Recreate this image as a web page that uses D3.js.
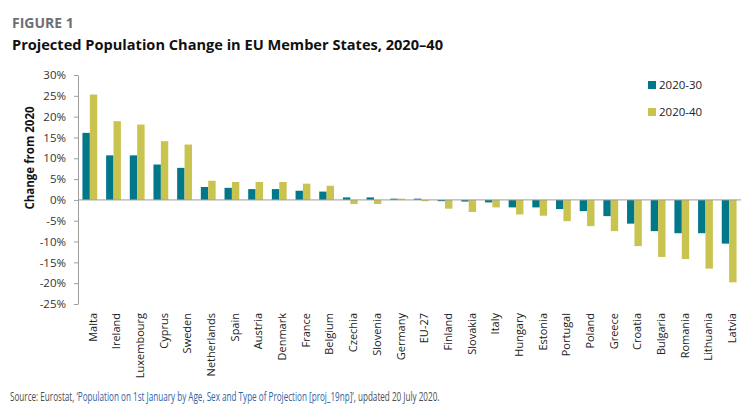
<!DOCTYPE html>
<html>
<head>
<meta charset="utf-8">
<script src="https://cdn.jsdelivr.net/npm/d3@7"></script>
<style>
  body { margin: 0; background: #fff; }
  svg { display: block; font-family: "Open Sans", sans-serif; }
</style>
</head>
<body>
<svg id="chart" width="749" height="418"></svg>
<script>
// data (percent change from 2020)
const countries = ["Malta", "Ireland", "Luxembourg", "Cyprus", "Sweden", "Netherlands", "Spain",
  "Austria", "Denmark", "France", "Belgium", "Czechia", "Slovenia", "Germany", "EU-27", "Finland",
  "Slovakia", "Italy", "Hungary", "Estonia", "Portugal", "Poland", "Greece", "Croatia", "Bulgaria",
  "Romania", "Lithuania", "Latvia"];
const change2030 = [16.1, 10.7, 10.7, 8.5, 7.7, 3.1, 2.9, 2.6, 2.6, 2.2, 2.0, 0.6, 0.6, 0.3, 0.3,
  -0.3, -0.4, -0.6, -1.8, -1.8, -2.2, -2.7, -3.9, -5.7, -7.5, -8.0, -8.0, -10.5];
const change2040 = [25.3, 18.9, 18.1, 14.1, 13.3, 4.6, 4.3, 4.3, 4.3, 3.9, 3.4, -1.0, -1.0, 0.3, -0.3,
  -2.1, -2.9, -1.8, -3.5, -3.8, -5.1, -6.3, -7.5, -11.1, -13.7, -14.2, -16.5, -19.8];
const seriesNames = ["2020-30", "2020-40"];
const yTicks = [30, 25, 20, 15, 10, 5, 0, -5, -10, -15, -20, -25];

const colors = { "2020-30": "#00788a", "2020-40": "#c9c350" };

const data = countries.map((c, i) => ({ country: c, "2020-30": change2030[i], "2020-40": change2040[i] }));

const svg = d3.select("#chart");

// scales
const x = d3.scaleBand()
  .domain(countries)
  .range([78, 741])
  .paddingInner(0.375)
  .paddingOuter(0.1875);

const xSub = d3.scaleBand()
  .domain(seriesNames)
  .range([0, x.bandwidth()]);

const y = d3.scaleLinear().domain([-25, 30]).range([304, 75]);

// titles
svg.append("text").attr("x", 12).attr("y", 28)
  .attr("font-size", 14).attr("font-weight", 700).attr("fill", "#6d6e71")
  .text("FIGURE 1");
svg.append("text").attr("x", 12).attr("y", 50)
  .attr("font-size", 14.5).attr("font-weight", 700).attr("fill", "#111")
  .attr("textLength", 431).attr("lengthAdjust", "spacingAndGlyphs")
  .text("Projected Population Change in EU Member States, 2020–40");

// bars
svg.append("g")
  .selectAll("g")
  .data(data)
  .join("g")
  .attr("transform", d => `translate(${x(d.country)},0)`)
  .selectAll("rect")
  .data(d => seriesNames.map(k => ({ key: k, value: d[k] })))
  .join("rect")
  .attr("x", d => xSub(d.key))
  .attr("width", xSub.bandwidth())
  .attr("y", d => y(Math.max(0, d.value)))
  .attr("height", d => Math.abs(y(d.value) - y(0)))
  .attr("fill", d => colors[d.key]);

// zero line
svg.append("line")
  .attr("x1", 78).attr("x2", 741)
  .attr("y1", y(0)).attr("y2", y(0))
  .attr("stroke", "#9d9d9d").attr("stroke-width", 1);

// y axis
const yAxis = d3.axisLeft(y)
  .tickValues(yTicks)
  .tickSize(4)
  .tickSizeOuter(0)
  .tickPadding(8)
  .tickFormat(d => d + "%");
const gy = svg.append("g").attr("transform", "translate(78,0)").call(yAxis);
gy.select(".domain").attr("stroke", "#9d9d9d");
gy.selectAll(".tick line").attr("stroke", "#9d9d9d");
gy.selectAll(".tick text").attr("font-size", 11.5).attr("fill", "#333").attr("font-family", "Open Sans");

svg.append("text")
  .attr("transform", "translate(34,158) rotate(-90)")
  .attr("text-anchor", "middle")
  .attr("font-size", 11.5).attr("font-weight", 700).attr("fill", "#111")
  .text("Change from 2020");

// x labels
svg.append("g")
  .selectAll("text")
  .data(countries)
  .join("text")
  .attr("transform", d => `translate(${x(d) + x.bandwidth() / 2 + 3},313) rotate(-90)`)
  .attr("text-anchor", "end")
  .attr("dy", "0.35em")
  .attr("font-size", 11).attr("fill", "#222")
  .text(d => d);

// legend
const legend = svg.append("g")
  .selectAll("g")
  .data(seriesNames)
  .join("g")
  .attr("transform", (d, i) => `translate(648,${85 + i * 27})`);
legend.append("rect")
  .attr("x", 0).attr("y", -4).attr("width", 8).attr("height", 8)
  .attr("fill", d => colors[d]);
legend.append("text")
  .attr("x", 11).attr("dy", "0.35em")
  .attr("font-size", 11.5).attr("fill", "#222")
  .text(d => d);

// source (condensed face in the original, so squeeze it horizontally)
const src = svg.append("text")
  .attr("font-size", 12.5).attr("fill", "#4d4d4f");
src.append("tspan").text("Source: Eurostat, ");
src.append("tspan").attr("fill", "#2d64a4").text("‘Population on 1st January by Age, Sex and Type of Projection [proj_19np]’");
src.append("tspan").text(", updated 20 July 2020.");
const srcLen = src.node().getComputedTextLength();
src.attr("transform", `translate(10,401) scale(${430 / srcLen},1)`);
</script>
</body>
</html>
